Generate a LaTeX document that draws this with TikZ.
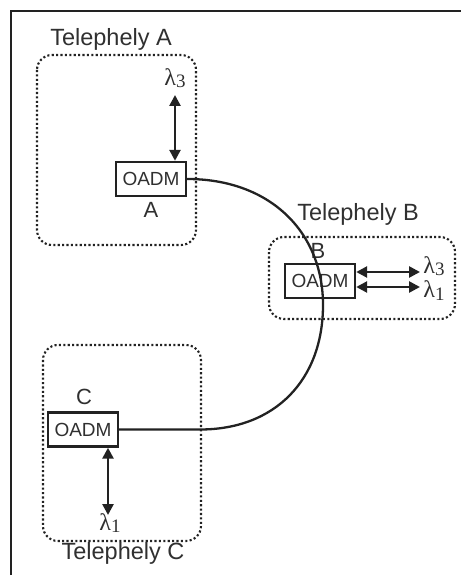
\documentclass[tikz,border=0pt]{standalone}
\usepackage{fontspec}
\setmainfont{Liberation Sans}
\newfontfamily\grk{Liberation Serif}
\usetikzlibrary{arrows.meta}
\definecolor{ink}{HTML}{222222}
\definecolor{txt}{HTML}{303030}
\newcommand{\lam}[1]{{\grk\fontsize{24}{24}\selectfont λ\raisebox{-0.2ex}{\fontsize{19}{19}\selectfont #1}}}
\tikzset{
  zone/.style={draw=ink, line width=2.1pt, dash pattern=on 2.1pt off 2.3pt, rounded corners=15pt},
  oadm/.style={draw=ink, line width=2.4pt, minimum width=70pt, minimum height=34pt, inner sep=0pt,
    text=txt, font=\fontsize{19}{19}\selectfont},
  lbl/.style={text=txt, font=\fontsize{22}{22}\selectfont, inner sep=0pt},
  sitelbl/.style={text=txt, font=\fontsize{23.5}{23.5}\selectfont, inner sep=0pt},
  lamlbl/.style={text=txt, inner sep=0pt},
  dbl/.style={draw=ink, line width=2.6pt, {Triangle[length=11pt,width=11pt]}-{Triangle[length=11pt,width=11pt]}},
  fiber/.style={draw=ink, line width=2.3pt}
}
\begin{document}
\begin{tikzpicture}[x=1pt,y=-1pt]
\useasboundingbox (0,0) rectangle (461,577);
% frame
\draw[draw=ink, line width=1.4pt] (11,575) -- (11,11) -- (461,11);
% zones
\draw[zone] (37,55) rectangle (196,245);
\draw[zone] (269,237) rectangle (455,319);
\draw[zone] (43,345) rectangle (201,541);
% site labels
\node[sitelbl] (tA) at (111,39) {Telephely A};
\node[sitelbl] (tB) at (358,214) {Telephely B};
\node[sitelbl] (tC) at (123,553) {Telephely C};
% OADM boxes
\node[oadm] (A) at (151,179) {OADM};
\node[oadm] (B) at (320,281) {OADM};
\node[oadm] (C) at (83,429.5) {OADM};
\node[lbl] (la) at (151,210) {A};
\node[lbl] (lb) at (318,251) {B};
\node[lbl] (lc) at (84,397) {C};
% lambda labels
\node[lamlbl] (l3a) at (175,78) {\lam{3}};
\node[lamlbl] (l3b) at (434,266.5) {\lam{3}};
\node[lamlbl] (l1b) at (434,290.5) {\lam{1}};
\node[lamlbl] (l1c) at (110,523) {\lam{1}};
\coordinate (a1) at (175,95);
\coordinate (b1) at (420,272);
\coordinate (b2) at (420,287);
\coordinate (c1) at (108,515);
% arrows
\draw[dbl] (A.north -| a1) -- (a1);
\draw[dbl] (B.east |- b1) -- (b1);
\draw[dbl] (B.east |- b2) -- (b2);
\draw[dbl] (C.south -| c1) -- (c1);
% fiber ring
\coordinate (r) at (323,305);
\coordinate (cb) at (200,429.5);
\draw[fiber] (A.east) .. controls (270,179) and (323,232) .. (r)
  .. controls (323,380) and (275,429.5) .. (cb) -- (C.east);
\end{tikzpicture}
\end{document}
